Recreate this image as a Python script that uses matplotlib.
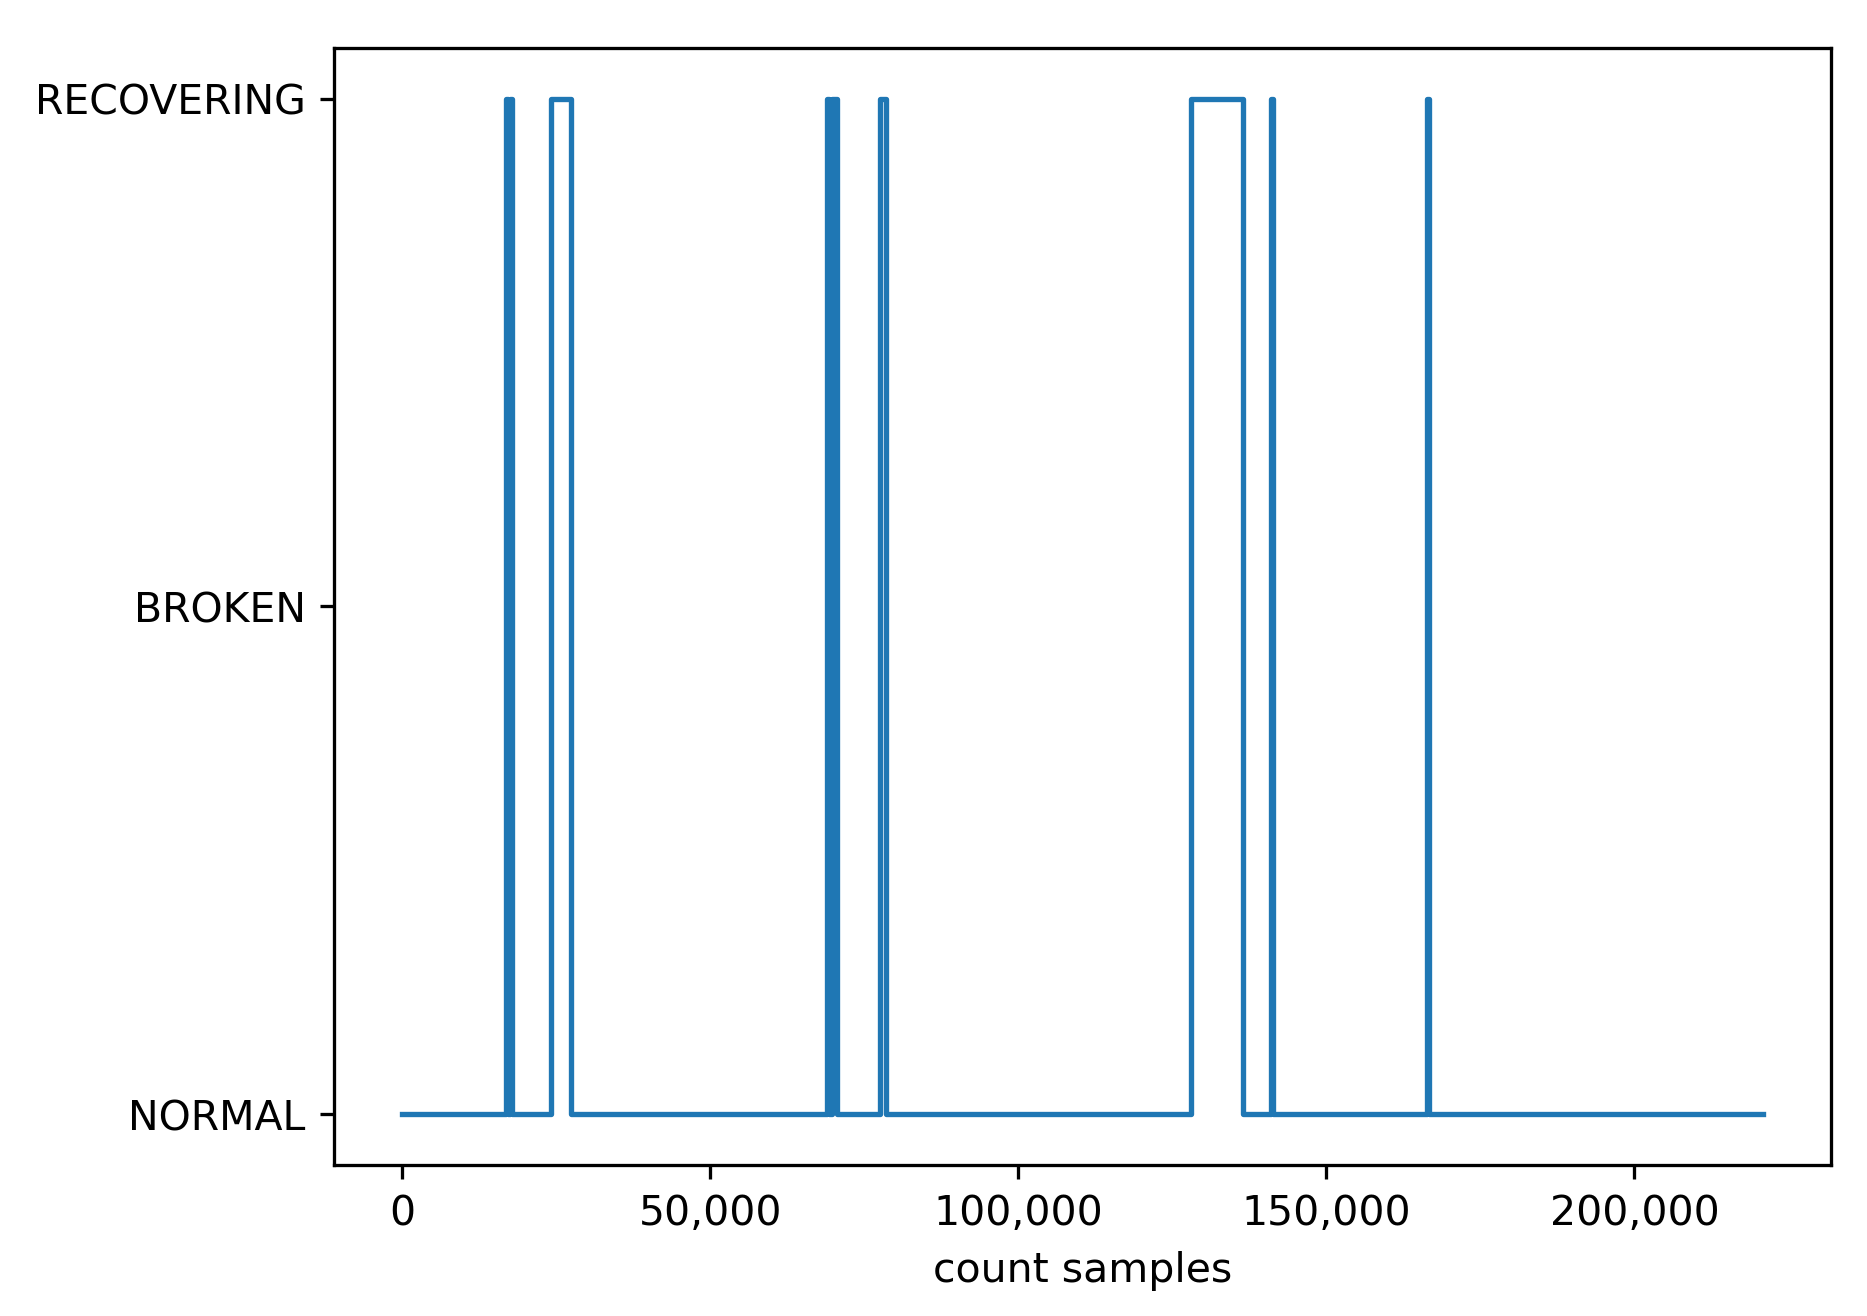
import numpy as np
import matplotlib
matplotlib.use("Agg")
import matplotlib.pyplot as plt
from matplotlib.ticker import FuncFormatter

# state levels
states = ["NORMAL", "BROKEN", "RECOVERING"]

# sample index where the state changes, and the state from that index on
change_at = [0, 16800, 17100, 17400, 17800, 24200, 27300, 68900, 69300, 69700, 70600,
             77600, 78500, 128000, 136400, 141000, 141300, 166400, 166700, 220800]
state_seq = ["NORMAL", "RECOVERING", "NORMAL", "RECOVERING", "NORMAL", "RECOVERING", "NORMAL",
             "RECOVERING", "NORMAL", "RECOVERING", "NORMAL", "RECOVERING", "NORMAL",
             "RECOVERING", "NORMAL", "RECOVERING", "NORMAL", "RECOVERING", "NORMAL", "NORMAL"]

y = [states.index(s) for s in state_seq]

fig, ax = plt.subplots(figsize=(6.332, 4.464), dpi=295)
fig.subplots_adjust(left=0.179, right=0.980, top=0.963, bottom=0.115)

ax.plot(change_at, y, drawstyle="steps-post", color="#1f77b4", linewidth=1.3)

ax.set_yticks(range(len(states)))
ax.set_yticklabels(states)
ax.xaxis.set_major_formatter(FuncFormatter(lambda v, p: f"{int(v):,}"))
ax.set_xlabel("count samples")

plt.savefig("out.png", dpi=295)
